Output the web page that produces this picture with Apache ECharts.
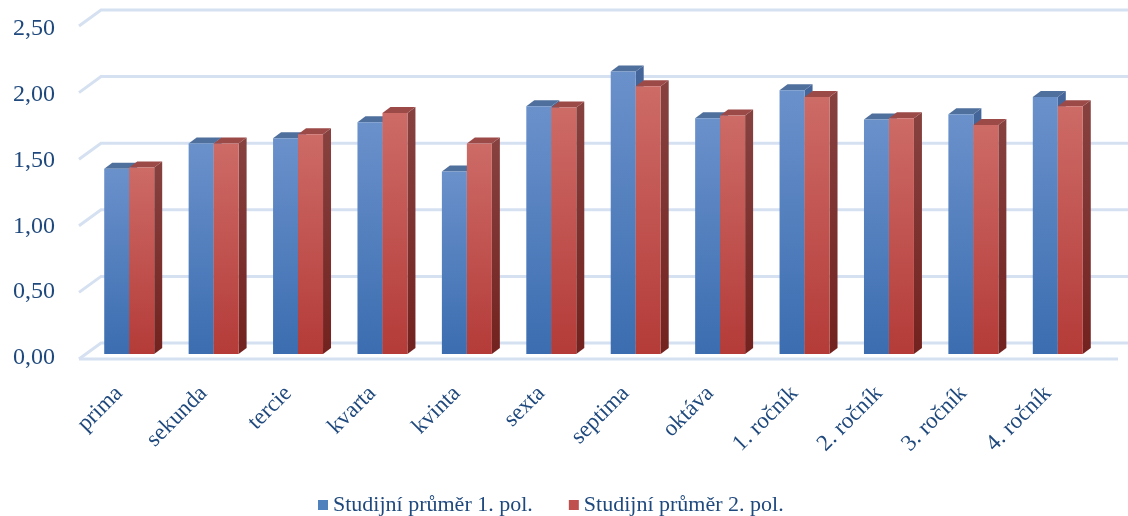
<!DOCTYPE html>
<html>
<head>
<meta charset="utf-8">
<script src="https://cdn.jsdelivr.net/npm/echarts@6/dist/echarts.min.js"></script>
<style>
html,body{margin:0;padding:0;background:#fff;}
#chart{width:1128px;height:516px;}
</style>
</head>
<body>
<div id="chart"></div>
<script>
// ---- data ----
const categories = ['prima','sekunda','tercie','kvarta','kvinta','sexta','septima','oktáva','1. ročník','2. ročník','3. ročník','4. ročník'];
const sem1 = [1.39,1.58,1.62,1.74,1.37,1.86,2.12,1.77,1.98,1.76,1.80,1.93];
const sem2 = [1.40,1.58,1.65,1.81,1.58,1.85,2.01,1.79,1.93,1.77,1.72,1.86];
const seriesNames = ['Studijní průměr 1. pol.','Studijní průměr 2. pol.'];
const yTicks = [0,0.5,1,1.5,2,2.5];

// ---- styles ----
const textColor = '#1f497d';
const gridColor = '#d5e1f1';
const palettes = [
  {legend:'#4f81bd', frontTop:'#6b91cb', frontBot:'#3b6db0', sideTop:'#45669a', sideBot:'#2e4d7c', top:'#4f6f9c'},
  {legend:'#c0504d', frontTop:'#cd6b67', frontBot:'#b43b38', sideTop:'#874240', sideBot:'#72221f', top:'#9b4a48'}
];
const depth = {dx: 8, dy: -6};

function barRenderer(idx){
  const p = palettes[idx];
  return function(params, api){
    const ci = api.value(0), v = api.value(1);
    const base = api.coord([ci, 0]);
    const top = api.coord([ci, v]);
    const band = api.size([1, 0])[0];
    const w = band * 0.296;
    const x0 = base[0] + (idx === 0 ? -w : 0);
    const x1 = x0 + w;
    const yT = top[1], yB = base[1];
    const dx = depth.dx, dy = depth.dy;
    return {
      type: 'group',
      children: [
        {type:'polygon', shape:{points:[[x1,yT],[x1+dx,yT+dy],[x1+dx,yB+dy],[x1,yB]]},
         style:{fill:new echarts.graphic.LinearGradient(0,0,0,1,[{offset:0,color:p.sideTop},{offset:1,color:p.sideBot}])}},
        {type:'polygon', shape:{points:[[x0,yT],[x0+dx,yT+dy],[x1+dx,yT+dy],[x1,yT]]},
         style:{fill:p.top}},
        {type:'rect', shape:{x:x0, y:yT, width:w, height:yB-yT},
         style:{fill:new echarts.graphic.LinearGradient(0,0,0,1,[{offset:0,color:p.frontTop},{offset:1,color:p.frontBot}])}}
      ]
    };
  };
}

function gridRenderer(params, api){
  const cs = params.coordSys;
  const v = api.value(1);
  const y = api.coord([0, v])[1];
  const front = [cs.x - 8, y + 5];
  const back = [cs.x + 14, y - 11];
  const children = [
    {type:'polyline', shape:{points:[front, back, [cs.x + cs.width + 60, y - 11]]},
     style:{stroke:gridColor, lineWidth:3, fill:null}}
  ];
  if (v === 0) {
    children.push({type:'line', shape:{x1:front[0], y1:front[1], x2:cs.x + cs.width + 18, y2:front[1]},
      style:{stroke:gridColor, lineWidth:3}});
  }
  return {type:'group', children};
}

const chart = echarts.init(document.getElementById('chart'), null, {renderer:'canvas'});
chart.setOption({
  animation: false,
  backgroundColor: '#ffffff',
  grid: [
    {left: 87, right: 28, top: 21, height: 333},
    {left: 87, right: 28, top: 29, height: 329}
  ],
  legend: {
    data: seriesNames,
    top: 489,
    left: 313,
    icon: 'rect',
    itemWidth: 10,
    itemHeight: 10,
    itemGap: 36,
    textStyle: {fontFamily: 'Liberation Serif', fontSize: 22, color: textColor}
  },
  xAxis: [{
    type: 'category',
    gridIndex: 0,
    data: categories,
    axisLine: {show: false},
    axisTick: {show: false},
    splitLine: {show: false},
    axisLabel: {rotate: 45, margin: 26, interval: 0, padding: [0, 14, 0, 0],
      fontFamily: 'Liberation Serif', fontSize: 23, color: textColor}
  }, {
    type: 'category',
    gridIndex: 1,
    data: categories,
    show: false
  }],
  yAxis: [{
    type: 'value',
    gridIndex: 0,
    min: 0, max: 2.5, interval: 0.5,
    axisLine: {show: false},
    axisTick: {show: false},
    splitLine: {show: false},
    axisLabel: {show: false}
  }, {
    type: 'value',
    gridIndex: 1,
    min: 0, max: 2.5, interval: 0.5,
    axisLine: {show: false},
    axisTick: {show: false},
    splitLine: {show: false},
    axisLabel: {margin: 32, fontFamily: 'Liberation Serif', fontSize: 24, color: textColor,
      formatter: v => v.toFixed(2).replace('.', ',')}
  }],
  series: [
    {type:'custom', name:'grid', silent:true, z:1, clip:false,
     renderItem: gridRenderer, data: yTicks.map(t => [0, t])},
    {type:'custom', name:seriesNames[0], z:2, clip:false, itemStyle:{color:palettes[0].legend},
     renderItem: barRenderer(0), data: sem1.map((v,i) => [i, v])},
    {type:'custom', name:seriesNames[1], z:3, clip:false, itemStyle:{color:palettes[1].legend},
     renderItem: barRenderer(1), data: sem2.map((v,i) => [i, v])}
  ]
});
</script>
</body>
</html>
